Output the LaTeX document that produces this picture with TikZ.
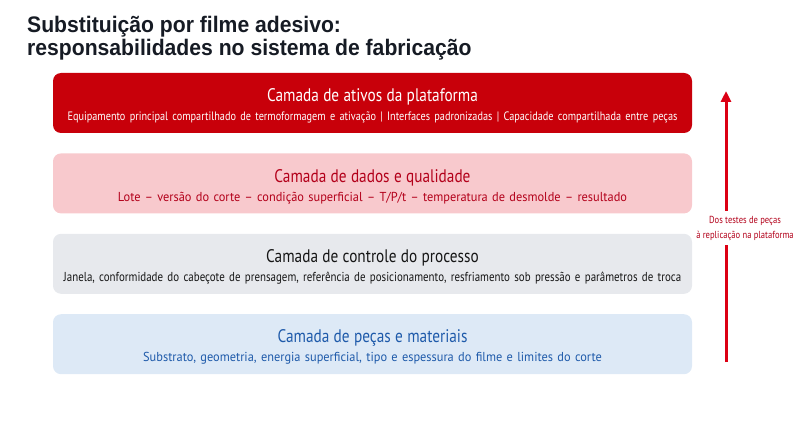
\documentclass[tikz,border=0pt]{standalone}
\usepackage{fontspec}
\setmainfont{PT Sans}[FakeStretch=0.95]
\newfontfamily\narrowbody{PT Sans}[FakeStretch=0.84]
\newfontfamily\headingfont{Liberation Sans}[FakeStretch=0.94]
\usetikzlibrary{positioning,arrows.meta}

\definecolor{headingInk}{HTML}{161B24}
\definecolor{platRed}{HTML}{C8000A}
\definecolor{dataPink}{HTML}{F8C9CD}
\definecolor{dataInk}{HTML}{B3001A}
\definecolor{procGray}{HTML}{E7E9ED}
\definecolor{procInk}{HTML}{161616}
\definecolor{partBlue}{HTML}{DDE9F6}
\definecolor{partInk}{HTML}{1E5AAA}
\definecolor{flowRed}{HTML}{DC0014}

\newcommand\layertitle[1]{{\narrowbody\fontsize{18.2}{19}\selectfont\rule{0pt}{19pt}#1}}

\begin{document}
\begin{tikzpicture}[x=1pt,y=1pt,
    every node/.style={inner sep=0pt},
    layer/.style={rounded corners=8pt,minimum width=639pt,minimum height=60pt,text width=636pt,align=center,
                  font=\fontsize{13}{19}\selectfont,node distance=20pt}]
  \useasboundingbox (0,0) rectangle (800,-433);

  \node[right,align=left,text=headingInk,font=\headingfont\bfseries\fontsize{22.5}{23}\selectfont] (Heading) at (27,-38)
        {Substituição por filme adesivo:\\responsabilidades no sistema de fabricação};

  \node[layer,fill=platRed,text=white] (PlatformLayer) at (372.5,-103)
        {\layertitle{Camada de ativos da plataforma}\\
         {\narrowbody\fontsize{12.2}{19}\selectfont Equipamento principal compartilhado de termoformagem e ativação | Interfaces padronizadas | Capacidade compartilhada entre peças}};
  \node[layer,fill=dataPink,text=dataInk,below=of PlatformLayer] (DataLayer)
        {\layertitle{Camada de dados e qualidade}\\
         Lote – versão do corte – condição superficial – T/P/t – temperatura de desmolde – resultado};
  \node[layer,fill=procGray,text=procInk,below=of DataLayer] (ProcessLayer)
        {\layertitle{Camada de controle do processo}\\
         {\narrowbody Janela, conformidade do cabeçote de prensagem, referência de posicionamento, resfriamento sob pressão e parâmetros de troca}};
  \node[layer,fill=partBlue,text=partInk,below=of ProcessLayer] (PartsLayer)
        {\layertitle{Camada de peças e materiais}\\
         Substrato, geometria, energia superficial, tipo e espessura do filme e limites do corte};

  \coordinate (FlowTail) at (726,-362);
  \coordinate (FlowTip)  at (726,-91);
  \draw[flowRed,line width=3pt,-{Triangle[length=11pt,width=10pt]}] (FlowTail) -- (FlowTip);
  \node[fill=white,inner xsep=2pt,inner ysep=5pt,align=center,text=dataInk,font=\narrowbody\fontsize{10.2}{15}\selectfont] (FlowLabel) at (745,-228)
        {Dos testes de peças\\à replicação na plataforma};

\end{tikzpicture}
\end{document}
